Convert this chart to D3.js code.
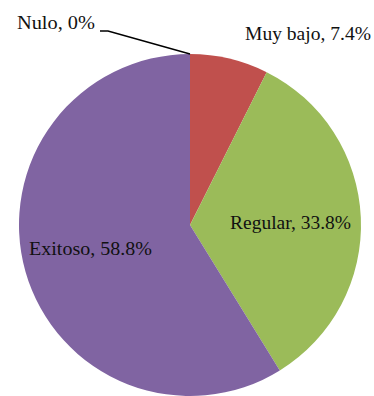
<!DOCTYPE html>
<html><head><meta charset="utf-8">
<script src="https://cdn.jsdelivr.net/npm/d3@7"></script>
<style>body{margin:0;background:#fff}svg{display:block}text{font-family:"Liberation Serif","DejaVu Serif",serif;fill:#111}</style>
</head><body><svg id="c" width="374" height="396"></svg>
<script>
const categories = ["Nulo", "Muy bajo", "Regular", "Exitoso"];
const values = [0, 7.4, 33.8, 58.8];
const labels = ["Nulo, 0%", "Muy bajo, 7.4%", "Regular, 33.8%", "Exitoso, 58.8%"];
const colors = ["#4F81BD", "#C0504D", "#9BBB59", "#8064A2"];

const svg = d3.select("#c");
const cx = 190, cy = 225, r = 171;
const g = svg.append("g").attr("transform", `translate(${cx},${cy})`);
const pie = d3.pie().sort(null).value(d => d)(values);
const arc = d3.arc().innerRadius(0).outerRadius(r);
g.selectAll("path").data(pie).enter().append("path")
  .attr("d", arc).attr("fill", (d, i) => colors[i]);

const lpos = [
  {x: -173, y: -196, w: 78},
  {x: 55, y: -185, w: 126},
  {x: 40, y: 4, w: 121},
  {x: -161, y: 30, w: 123}
];
labels.forEach((t, i) => {
  g.append("text").attr("x", lpos[i].x).attr("y", lpos[i].y)
    .attr("font-size", 19.5)
    .attr("textLength", lpos[i].w).attr("lengthAdjust", "spacingAndGlyphs")
    .text(t);
});
const a0 = pie[0].startAngle;
const ex = Math.sin(a0) * r, ey = -Math.cos(a0) * r;
g.append("path").attr("d", `M${-90},${-194} L${-82},${-194} L${ex},${ey}`)
  .attr("fill", "none").attr("stroke", "#000").attr("stroke-width", 1.5);
</script></body></html>
